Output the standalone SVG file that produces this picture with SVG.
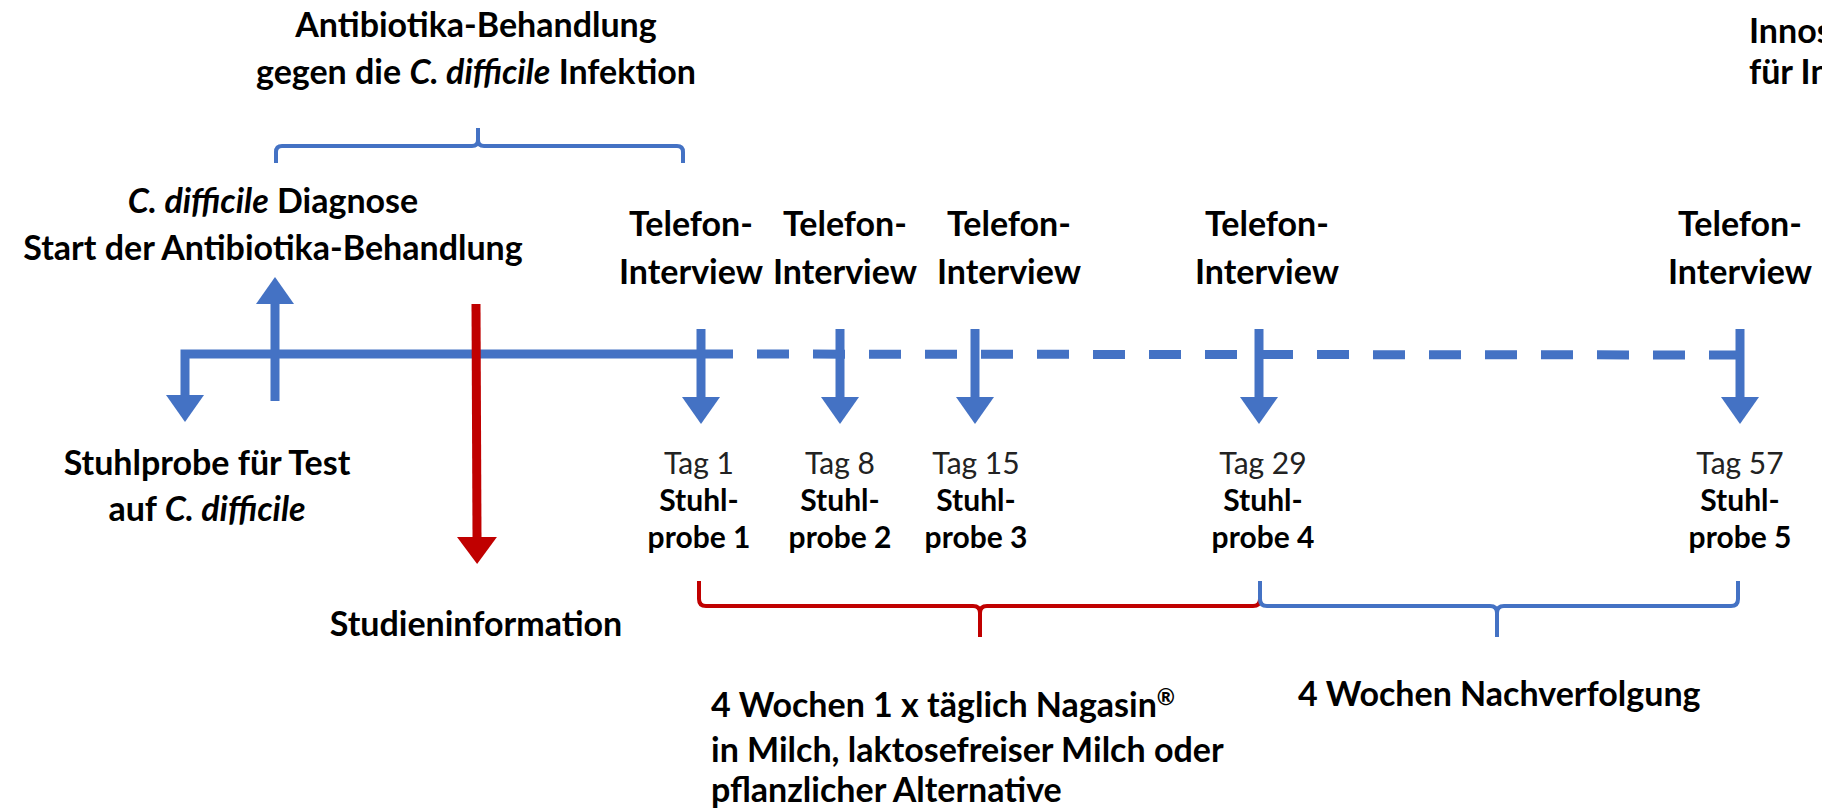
<svg xmlns="http://www.w3.org/2000/svg" width="1822" height="810" viewBox="0 0 1822 810">
<style>
  text { font-family: Lato, "Open Sans", "Liberation Sans", sans-serif; fill: #000; }
  .b { font-weight: 700; font-size: 34px; }
  .s { font-weight: 700; font-size: 30px; }
  .r { font-weight: 400; font-size: 30px; fill: #222; }
  .m { text-anchor: middle; }
  .blue { stroke: #4472C4; fill: none; }
  .red { stroke: #C00000; fill: none; }
  .arr { stroke-width: 9; }
  .brace { stroke-width: 4; stroke-linejoin: round; }
</style>
<defs>
  <marker id="ab" viewBox="0 0 27 38" markerWidth="27" markerHeight="38" refX="0" refY="19" orient="auto" markerUnits="userSpaceOnUse">
    <path d="M0,0 L27,19 L0,38 Z" fill="#4472C4"/>
  </marker>
  <marker id="ar" viewBox="0 0 27 40" markerWidth="27" markerHeight="40" refX="0" refY="20" orient="auto" markerUnits="userSpaceOnUse">
    <path d="M0,0 L27,20 L0,40 Z" fill="#C00000"/>
  </marker>
</defs>

<g id="connectors">
  <path class="blue arr" d="M701,354 H185 V395" marker-end="url(#ab)" stroke-linejoin="miter"/>
  <path class="blue arr" d="M701,354 L1740,355" stroke-dasharray="32 24"/>
  <path class="blue arr" d="M275,401 V304" marker-end="url(#ab)"/>
  <path class="red arr" d="M476,304 L477,537" marker-end="url(#ar)"/>
  <path class="blue arr" d="M701,329 V397" marker-end="url(#ab)"/>
  <path class="blue arr" d="M840,329 V397" marker-end="url(#ab)"/>
  <path class="blue arr" d="M975,329 V397" marker-end="url(#ab)"/>
  <path class="blue arr" d="M1259,329 V397" marker-end="url(#ab)"/>
  <path class="blue arr" d="M1740,329 V397" marker-end="url(#ab)"/>
  <path class="blue brace" d="M276,163 V152 Q276,146 282,146 H472 Q478,146 478,140 V128 M478,140 Q478,146 484,146 H677 Q683,146 683,152 V163"/>
  <path class="red brace" d="M699,581 V599 Q699,606 706,606 H973 Q980,606 980,613 V637 M980,613 Q980,606 987,606 H1253 Q1260,606 1260,599 V581"/>
  <path class="blue brace" d="M1260,581 V599 Q1260,606 1267,606 H1490 Q1497,606 1497,613 V637 M1497,613 Q1497,606 1504,606 H1731 Q1738,606 1738,599 V581"/>
</g>

<g id="antibiotika-label">
  <text class="b m" x="476" y="37">Antibiotika-Behandlung</text>
  <text class="b m" x="476" y="84"><tspan>gegen die </tspan><tspan font-style="italic">C. difficile</tspan><tspan> Infektion</tspan></text>
</g>
<g id="diagnose">
  <text class="b m" x="273" y="213"><tspan font-style="italic">C. difficile</tspan><tspan> Diagnose</tspan></text>
  <text class="b m" x="273" y="260">Start der Antibiotika-Behandlung</text>
</g>
<g id="stuhlprobe-test">
  <text class="b m" x="207" y="475">Stuhlprobe für Test</text>
  <text class="b m" x="207" y="521"><tspan>auf </tspan><tspan font-style="italic">C. difficile</tspan></text>
</g>
<g id="studieninformation">
  <text class="b m" x="476" y="636">Studieninformation</text>
</g>
<g id="tel1">
  <text class="b m" x="691" y="236">Telefon-</text>
  <text class="b m" x="691" y="284">Interview</text>
</g>
<g id="tel2">
  <text class="b m" x="845" y="236">Telefon-</text>
  <text class="b m" x="845" y="284">Interview</text>
</g>
<g id="tel3">
  <text class="b m" x="1009" y="236">Telefon-</text>
  <text class="b m" x="1009" y="284">Interview</text>
</g>
<g id="tel4">
  <text class="b m" x="1267" y="236">Telefon-</text>
  <text class="b m" x="1267" y="284">Interview</text>
</g>
<g id="tel5">
  <text class="b m" x="1740" y="236">Telefon-</text>
  <text class="b m" x="1740" y="284">Interview</text>
</g>
<g id="tag1">
  <text class="r m" x="699" y="474">Tag 1</text>
  <text class="s m" x="699" y="511">Stuhl-</text>
  <text class="s m" x="699" y="548">probe 1</text>
</g>
<g id="tag8">
  <text class="r m" x="840" y="474">Tag 8</text>
  <text class="s m" x="840" y="511">Stuhl-</text>
  <text class="s m" x="840" y="548">probe 2</text>
</g>
<g id="tag15">
  <text class="r m" x="976" y="474">Tag 15</text>
  <text class="s m" x="976" y="511">Stuhl-</text>
  <text class="s m" x="976" y="548">probe 3</text>
</g>
<g id="tag29">
  <text class="r m" x="1263" y="474">Tag 29</text>
  <text class="s m" x="1263" y="511">Stuhl-</text>
  <text class="s m" x="1263" y="548">probe 4</text>
</g>
<g id="tag57">
  <text class="r m" x="1740" y="474">Tag 57</text>
  <text class="s m" x="1740" y="511">Stuhl-</text>
  <text class="s m" x="1740" y="548">probe 5</text>
</g>
<g id="nagasin">
  <text class="b" x="711" y="717">4 Wochen 1 x täglich Nagasin<tspan font-size="22" dy="-12">®</tspan></text>
  <text class="b" x="711" y="762">in Milch, laktosefreiser Milch oder</text>
  <text class="b" x="711" y="802">pflanzlicher Alternative</text>
</g>
<g id="nachverfolgung">
  <text class="b" x="1298" y="706">4 Wochen Nachverfolgung</text>
</g>
<g id="innos">
  <text class="b" x="1749" y="43" fill="#333">Innos</text>
  <text class="b" x="1749" y="84" fill="#333">für In</text>
</g>
</svg>
